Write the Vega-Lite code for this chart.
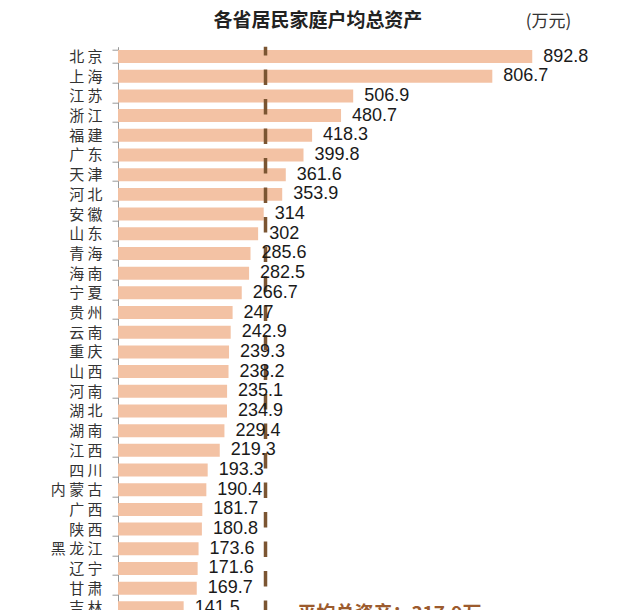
{
  "$schema": "https://vega.github.io/schema/vega-lite/v6.json",
  "autosize": {"type": "none"},
  "padding": {"left": 118, "top": 46.7, "right": 58, "bottom": 0},
  "width": 464,
  "height": {"step": 19.69},
  "background": "white",
  "config": {"view": {"stroke": null}},
  "data": {"values": [
    {"province": "北京", "value": 892.8},
    {"province": "上海", "value": 806.7},
    {"province": "江苏", "value": 506.9},
    {"province": "浙江", "value": 480.7},
    {"province": "福建", "value": 418.3},
    {"province": "广东", "value": 399.8},
    {"province": "天津", "value": 361.6},
    {"province": "河北", "value": 353.9},
    {"province": "安徽", "value": 314},
    {"province": "山东", "value": 302},
    {"province": "青海", "value": 285.6},
    {"province": "海南", "value": 282.5},
    {"province": "宁夏", "value": 266.7},
    {"province": "贵州", "value": 247},
    {"province": "云南", "value": 242.9},
    {"province": "重庆", "value": 239.3},
    {"province": "山西", "value": 238.2},
    {"province": "河南", "value": 235.1},
    {"province": "湖北", "value": 234.9},
    {"province": "湖南", "value": 229.4},
    {"province": "江西", "value": 219.3},
    {"province": "四川", "value": 193.3},
    {"province": "内蒙古", "value": 190.4},
    {"province": "广西", "value": 181.7},
    {"province": "陕西", "value": 180.8},
    {"province": "黑龙江", "value": 173.6},
    {"province": "辽宁", "value": 171.6},
    {"province": "甘肃", "value": 169.7},
    {"province": "吉林", "value": 141.5}
  ]},
  "layer": [
    {
      "mark": {"type": "bar", "color": "#F3C2A4"},
      "encoding": {
        "y": {"field": "province", "type": "nominal", "sort": null,
          "scale": {"paddingInner": 0.34},
          "axis": {"title": "各省居民家庭户均总资产", "titleAngle": 0, "titleX": 95, "titleY": -26, "titleAlign": "left", "titleBaseline": "middle", "titleFont": "Noto Sans CJK SC", "titleFontSize": 19, "titleFontWeight": "bold", "titleColor": "#222222", "labelExpr": "join(split(datum.label, ''), ' ')", "labelFont": "Noto Sans CJK SC", "labelFontSize": 15, "labelColor": "#333333", "labelPadding": 10, "tickBand": "extent", "tickSize": 6, "tickColor": "#999999", "domainColor": "#999999", "grid": false}},
        "x": {"field": "value", "type": "quantitative", "scale": {"domain": [0, 1000], "nice": false},
          "axis": {"orient": "top", "labels": false, "ticks": false, "domain": false, "grid": false, "title": "(万元)", "titleX": 430, "titleY": -25, "titleAlign": "center", "titleBaseline": "middle", "titleFont": "Noto Sans CJK SC", "titleFontSize": 17, "titleFontWeight": "normal", "titleColor": "#333333"}}
      }
    },
    {
      "data": {"values": [{"avg": 317.9}]},
      "mark": {"type": "rule", "color": "#7B5532", "strokeWidth": 3.5, "strokeDash": [15.5, 14], "strokeDashOffset": 6.7},
      "encoding": {"x": {"field": "avg", "type": "quantitative",
          "axis": {"orient": "top", "labels": false, "ticks": false, "domain": false, "grid": false, "title": "(万元)", "titleX": 430, "titleY": -25, "titleAlign": "center", "titleBaseline": "middle", "titleFont": "Noto Sans CJK SC", "titleFontSize": 17, "titleFontWeight": "normal", "titleColor": "#333333"}}}
    },
    {
      "mark": {"type": "text", "align": "left", "baseline": "middle", "dx": 11, "font": "Liberation Sans", "fontSize": 18, "color": "#1a1a1a"},
      "encoding": {
        "y": {"field": "province", "type": "nominal", "sort": null,
          "axis": {"title": "各省居民家庭户均总资产", "titleAngle": 0, "titleX": 95, "titleY": -26, "titleAlign": "left", "titleBaseline": "middle", "titleFont": "Noto Sans CJK SC", "titleFontSize": 19, "titleFontWeight": "bold", "titleColor": "#222222", "labelExpr": "join(split(datum.label, ''), ' ')", "labelFont": "Noto Sans CJK SC", "labelFontSize": 15, "labelColor": "#333333", "labelPadding": 10, "tickBand": "extent", "tickSize": 6, "tickColor": "#999999", "domainColor": "#999999", "grid": false}},
        "x": {"field": "value", "type": "quantitative",
          "axis": {"orient": "top", "labels": false, "ticks": false, "domain": false, "grid": false, "title": "(万元)", "titleX": 430, "titleY": -25, "titleAlign": "center", "titleBaseline": "middle", "titleFont": "Noto Sans CJK SC", "titleFontSize": 17, "titleFontWeight": "normal", "titleColor": "#333333"}},
        "text": {"field": "value", "type": "quantitative"}
      }
    },
    {
      "data": {"values": [{"province": "吉林", "avg": 317.9, "label": "平均总资产：317.9万"}]},
      "mark": {"type": "text", "align": "left", "baseline": "middle", "dx": 32, "dy": 6, "font": "Noto Sans CJK SC", "fontSize": 19, "fontWeight": "bold", "color": "#9C5B2E"},
      "encoding": {
        "y": {"field": "province", "type": "nominal", "sort": null,
          "axis": {"title": "各省居民家庭户均总资产", "titleAngle": 0, "titleX": 95, "titleY": -26, "titleAlign": "left", "titleBaseline": "middle", "titleFont": "Noto Sans CJK SC", "titleFontSize": 19, "titleFontWeight": "bold", "titleColor": "#222222", "labelExpr": "join(split(datum.label, ''), ' ')", "labelFont": "Noto Sans CJK SC", "labelFontSize": 15, "labelColor": "#333333", "labelPadding": 10, "tickBand": "extent", "tickSize": 6, "tickColor": "#999999", "domainColor": "#999999", "grid": false}},
        "x": {"field": "avg", "type": "quantitative",
          "axis": {"orient": "top", "labels": false, "ticks": false, "domain": false, "grid": false, "title": "(万元)", "titleX": 430, "titleY": -25, "titleAlign": "center", "titleBaseline": "middle", "titleFont": "Noto Sans CJK SC", "titleFontSize": 17, "titleFontWeight": "normal", "titleColor": "#333333"}},
        "text": {"field": "label"}
      }
    }
  ]
}
